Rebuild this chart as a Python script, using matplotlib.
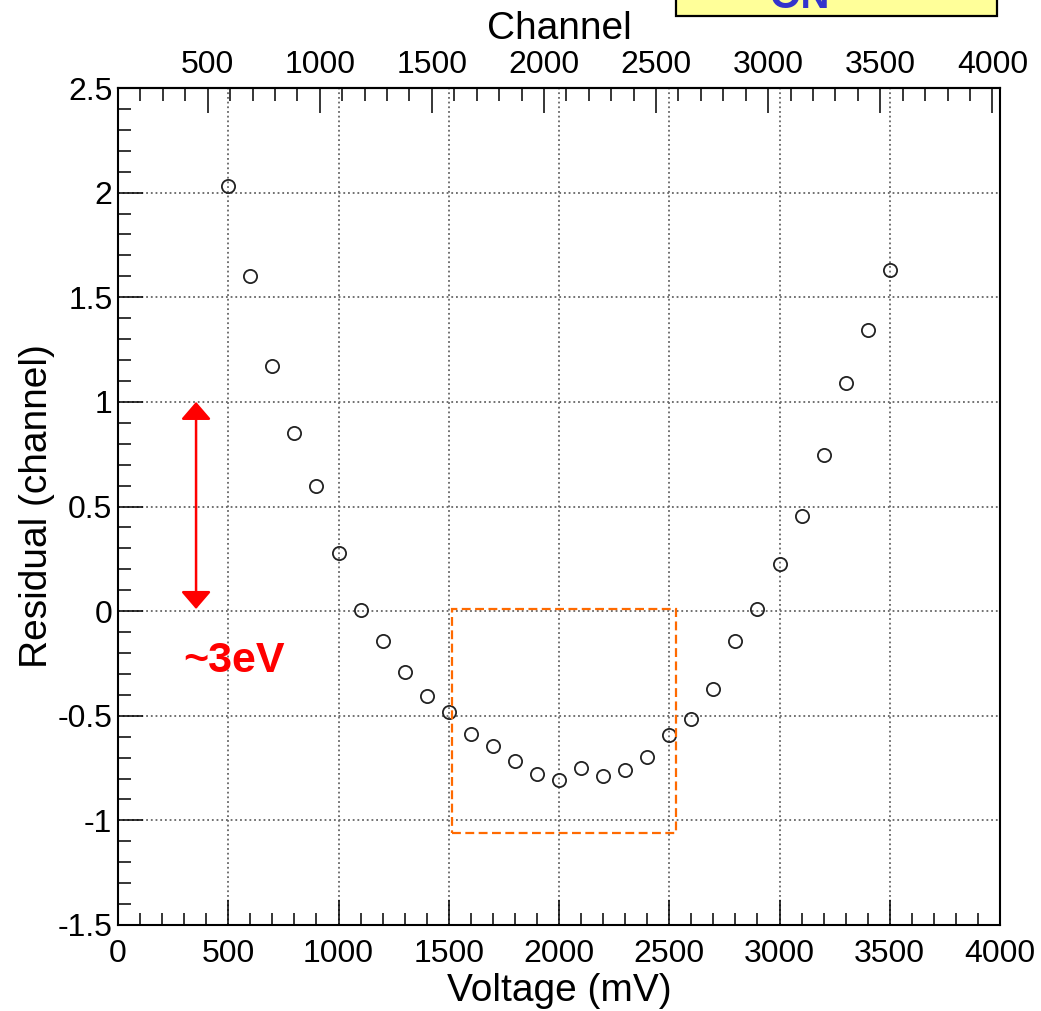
import numpy as np
import matplotlib
matplotlib.use("Agg")
import matplotlib.pyplot as plt
from matplotlib.patches import Rectangle
from matplotlib.ticker import MultipleLocator

plt.rcParams['font.family'] = ['Liberation Sans', 'DejaVu Sans']

# measured residuals vs. DAC voltage
voltage_mv = [500, 600, 700, 800, 900, 1000, 1100, 1200, 1300, 1400, 1500,
              1600, 1700, 1800, 1900, 2000, 2100, 2200, 2300, 2400, 2500,
              2600, 2700, 2800, 2900, 3000, 3100, 3200, 3300, 3400, 3500]
residual = [2.03, 1.60, 1.17, 0.85, 0.60, 0.28, 0.005, -0.143, -0.29, -0.405, -0.48,
            -0.587, -0.646, -0.717, -0.78, -0.807, -0.75, -0.789, -0.757, -0.697, -0.59,
            -0.516, -0.372, -0.143, 0.01, 0.225, 0.455, 0.746, 1.09, 1.343, 1.63]

# channel = slope * voltage + offset (top axis)
ch_slope = 0.9835
ch_offset = 100.0

# highlighted region (mV, residual)
box_x = [1516, 2529]
box_y = [-1.06, 0.01]
# arrow marking ~3 eV span
arrow_x = 354
arrow_y = [0.01, 1.0]


def v2c(v):
    return ch_slope * np.asarray(v) + ch_offset


def c2v(c):
    return (np.asarray(c) - ch_offset) / ch_slope


fig = plt.figure(figsize=(10.41, 10.11), dpi=100)
ax = fig.add_axes([118 / 1041, 1 - 925 / 1011, 882 / 1041, 837 / 1011])

ax.plot(voltage_mv, residual, 'o', mfc='none', mec='#222222', ms=9.5, mew=1.3, zorder=5)

ax.set_xlim(0, 4000)
ax.set_ylim(-1.5, 2.5)
ax.xaxis.set_major_locator(MultipleLocator(500))
ax.xaxis.set_minor_locator(MultipleLocator(100))
ax.yaxis.set_major_locator(MultipleLocator(0.5))
ax.yaxis.set_minor_locator(MultipleLocator(0.1))
ax.yaxis.set_major_formatter(plt.FuncFormatter(lambda v, p: '%g' % v))

ax.tick_params(which='both', direction='in', top=False, right=False, width=1.1, labelsize=23)
ax.tick_params(axis='x', which='both', pad=10)
ax.tick_params(axis='y', which='both', pad=4)
ax.tick_params(which='major', length=18)
ax.tick_params(which='minor', length=9)
for s in ax.spines.values():
    s.set_linewidth(1.5)

ax.grid(True, which='major', color='#666666', linestyle=(0, (1, 1.6)), linewidth=1.3)
ax.set_axisbelow(True)

ax.set_xlabel('Voltage (mV)', fontsize=28, labelpad=3)
ax.set_ylabel('Residual (channel)', fontsize=28, labelpad=2)

# top channel axis
sec = ax.secondary_xaxis('top', functions=(v2c, c2v))
sec.xaxis.set_major_locator(MultipleLocator(500))
sec.xaxis.set_minor_locator(MultipleLocator(100))
sec.tick_params(which='both', direction='in', width=1.1, labelsize=23, pad=6)
sec.tick_params(which='major', length=18)
sec.tick_params(which='minor', length=9)
sec.spines['top'].set_linewidth(1.5)
sec.set_xlabel('Channel', fontsize=28, labelpad=8)

# orange dashed region
ax.add_patch(Rectangle((box_x[0], box_y[0]), box_x[1] - box_x[0], box_y[1] - box_y[0],
                       fill=False, edgecolor='#ff6a00', linestyle=(0, (4, 2)), linewidth=1.6,
                       zorder=6))

# red double arrow and label
ax.annotate('', xy=(arrow_x, arrow_y[1]), xytext=(arrow_x, arrow_y[0]),
            arrowprops=dict(arrowstyle='<|-|>,head_length=0.43,head_width=0.37',
                            color='red', lw=1.8, mutation_scale=25,
                            shrinkA=0, shrinkB=0), zorder=7)
ax.text(526, -0.238, '~3eV', color='red', fontsize=31, fontweight='bold',
        ha='center', va='center', zorder=7)

# clipped label box at top right
fig.patches.append(Rectangle((676 / 1041, 1 - 16 / 1011), 321 / 1041, 0.05,
                             transform=fig.transFigure, facecolor='#ffff99',
                             edgecolor='black', linewidth=1.6, zorder=1))
fig.text(800 / 1041, 1 - 8 / 1011, 'ON', color='#3333cc', fontsize=29,
         fontweight='bold', ha='center', va='baseline', zorder=2)

fig.savefig('out.png', dpi=100)
